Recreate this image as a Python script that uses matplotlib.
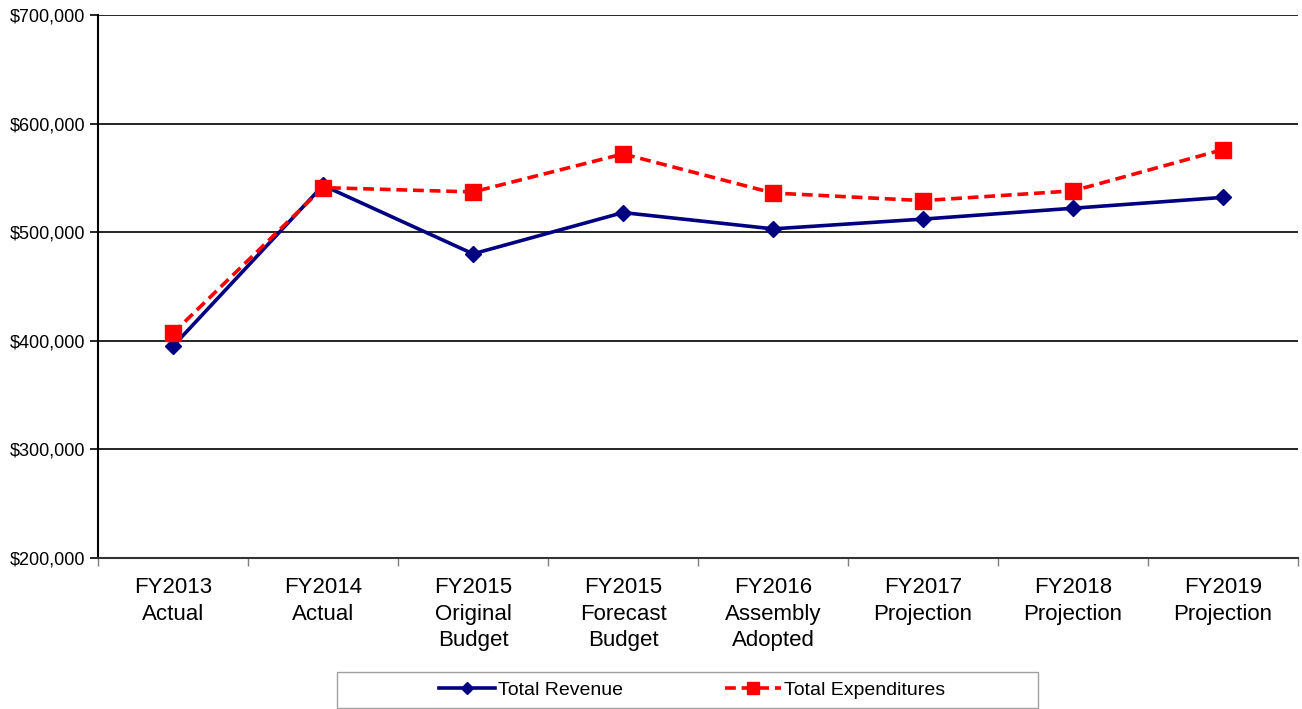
import numpy as np
import matplotlib.pyplot as plt
from matplotlib.patches import Rectangle
from matplotlib.ticker import FuncFormatter, FixedLocator

plt.rcParams['font.family'] = ['Liberation Sans', 'DejaVu Sans']

# 数据
categories = ['FY2013\nActual', 'FY2014\nActual', 'FY2015\nOriginal\nBudget',
              'FY2015\nForecast\nBudget', 'FY2016\nAssembly\nAdopted',
              'FY2017\nProjection', 'FY2018\nProjection', 'FY2019\nProjection']
revenue = [395000, 543000, 480000, 518000, 503000, 512000, 522000, 532000]
expenditures = [407000, 541000, 537000, 572000, 536000, 529000, 538000, 576000]

x = np.arange(len(categories))

fig = plt.figure(figsize=(13.02, 7.09), dpi=100)
ax = fig.add_axes([0.0753, 0.213, 0.9217, 0.766])

ax.plot(x, revenue, color='#000080', lw=2.6, marker='D', markersize=8,
        label='Total Revenue', zorder=3)
ax.plot(x, expenditures, color='#ff0000', lw=2.6, ls=(0, (3, 1.6)), marker='s',
        markersize=11, label='Total Expenditures', zorder=4)

ax.set_xlim(-0.5, len(categories) - 0.5)
ax.set_ylim(200000, 700000)
ax.set_yticks(np.arange(200000, 700001, 100000))
ax.yaxis.set_major_formatter(FuncFormatter(lambda v, p: '${:,.0f}'.format(v)))
ax.yaxis.grid(True, color='black', lw=1.2)
ax.set_axisbelow(True)

ax.set_xticks(x)
ax.set_xticklabels(categories, fontsize=16, linespacing=1.33, va='top')
ax.tick_params(axis='x', which='major', length=0, pad=14)
ax.xaxis.set_minor_locator(FixedLocator(np.arange(-0.5, len(categories), 1.0)))
ax.tick_params(axis='x', which='minor', length=6, color='#808080', width=1)
ax.tick_params(axis='y', labelsize=13, length=6, width=1.2, pad=3)

for s in ['top', 'right']:
    ax.spines[s].set_visible(False)
ax.spines['left'].set_linewidth(1.5)
ax.spines['bottom'].set_linewidth(1.5)
ax.spines['bottom'].set_color('#333333')

# 图例外框
fig.patches.append(Rectangle((0.2588, 0.0014), 0.5384, 0.0508, transform=fig.transFigure,
                             fill=False, edgecolor='#a0a0a0', lw=1.0))
leg = fig.legend(loc='center', bbox_to_anchor=(0.5315, 0.0268), ncol=2, fontsize=14,
                 frameon=False, handlelength=2.9, handletextpad=0.15,
                 columnspacing=5.2, markerscale=0.75)

fig.savefig('out.png', dpi=100)
